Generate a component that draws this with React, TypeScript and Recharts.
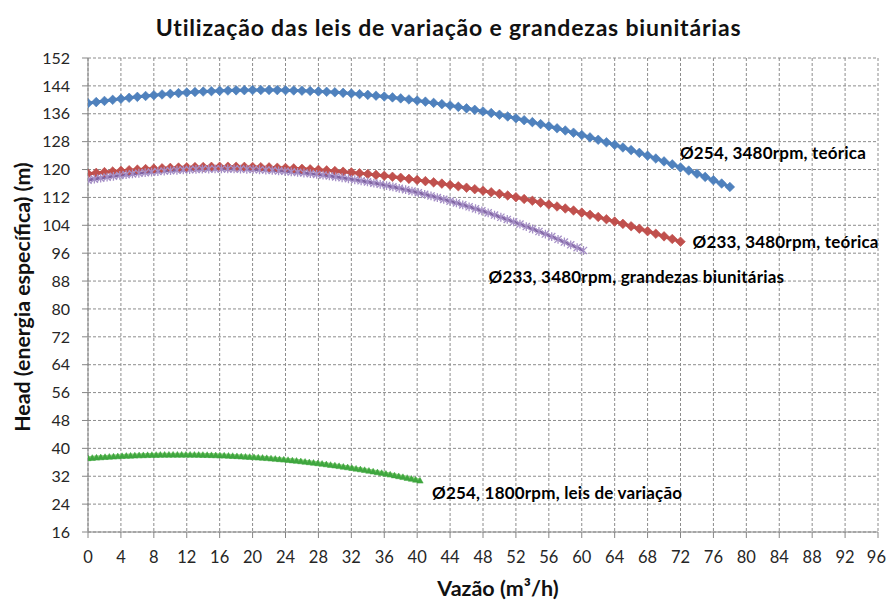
import React from "react";
import { LineChart, Line, XAxis, YAxis, CartesianGrid } from "recharts";

const xTicks = [0, 4, 8, 12, 16, 20, 24, 28, 32, 36, 40, 44, 48, 52, 56, 60, 64, 68, 72, 76, 80, 84, 88, 92, 96];
const yTicks = [16, 24, 32, 40, 48, 56, 64, 72, 80, 88, 96, 104, 112, 120, 128, 136, 144, 152];

const seriesNames = [
  "Ø254, 3480rpm, teórica",
  "Ø233, 3480rpm, teórica",
  "Ø233, 3480rpm, grandezas biunitárias",
  "Ø254, 1800rpm, leis de variação",
];

const blueQ = [0,1,2,3,4,5,6,7,8,9,10,11,12,13,14,15,16,17,18,19,20,21,22,23,24,25,26,27,28,29,30,31,32,33,34,35,36,37,38,39,40,41,42,43,44,45,46,47,48,49,50,51,52,53,54,55,56,57,58,59,60,61,62,63,64,65,66,67,68,69,70,71,72,73,74,75,76,77,78];
const blueH = [139.00,139.35,139.68,140.00,140.30,140.58,140.85,141.10,141.33,141.54,141.74,141.93,142.09,142.24,142.37,142.48,142.58,142.66,142.72,142.77,142.80,142.81,142.81,142.79,142.75,142.69,142.62,142.53,142.42,142.30,142.16,142.00,141.82,141.63,141.42,141.19,140.95,140.69,140.41,140.11,139.80,139.47,139.12,138.76,138.38,137.98,137.56,137.13,136.67,136.21,135.72,135.22,134.70,134.16,133.60,133.03,132.44,131.83,131.20,130.56,129.90,129.22,128.53,127.81,127.08,126.33,125.57,124.78,123.98,123.16,122.33,121.47,120.60,119.71,118.81,117.88,116.94,115.98,115.00];

const redQ = [0,1,2,3,4,5,6,7,8,9,10,11,12,13,14,15,16,17,18,19,20,21,22,23,24,25,26,27,28,29,30,31,32,33,34,35,36,37,38,39,40,41,42,43,44,45,46,47,48,49,50,51,52,53,54,55,56,57,58,59,60,61,62,63,64,65,66,67,68,69,70,71,72];
const redH = [118.80,119.03,119.25,119.45,119.64,119.81,119.97,120.12,120.25,120.36,120.47,120.56,120.63,120.69,120.74,120.77,120.79,120.80,120.79,120.76,120.72,120.67,120.61,120.52,120.43,120.32,120.20,120.06,119.91,119.75,119.57,119.37,119.17,118.95,118.71,118.46,118.20,117.92,117.63,117.32,117.00,116.67,116.32,115.96,115.58,115.19,114.78,114.36,113.93,113.48,113.02,112.55,112.06,111.55,111.04,110.50,109.96,109.40,108.82,108.24,107.63,107.02,106.39,105.74,105.08,104.41,103.72,103.02,102.30,101.58,100.83,100.07,99.30];

const purpleQ = [0,0.77,1.54,2.32,3.09,3.86,4.63,5.40,6.18,6.95,7.72,8.49,9.26,10.03,10.81,11.58,12.35,13.12,13.89,14.67,15.44,16.21,16.98,17.75,18.53,19.30,20.07,20.84,21.61,22.39,23.16,23.93,24.70,25.47,26.24,27.02,27.79,28.56,29.33,30.10,30.88,31.65,32.42,33.19,33.96,34.74,35.51,36.28,37.05,37.82,38.60,39.37,40.14,40.91,41.68,42.45,43.23,44.00,44.77,45.54,46.31,47.09,47.86,48.63,49.40,50.17,50.95,51.72,52.49,53.26,54.03,54.80,55.58,56.35,57.12,57.89,58.66,59.44,60.21];
const purpleH = [116.97,117.26,117.54,117.81,118.06,118.30,118.53,118.74,118.93,119.11,119.27,119.43,119.57,119.70,119.80,119.90,119.98,120.05,120.10,120.14,120.17,120.17,120.17,120.16,120.12,120.07,120.02,119.94,119.85,119.75,119.63,119.49,119.34,119.18,119.01,118.81,118.61,118.39,118.16,117.90,117.64,117.36,117.07,116.77,116.45,116.11,115.76,115.40,115.01,114.62,114.21,113.79,113.35,112.90,112.42,111.95,111.45,110.94,110.41,109.87,109.31,108.74,108.16,107.55,106.94,106.31,105.67,105.00,104.33,103.64,102.94,102.22,101.49,100.74,99.98,99.20,98.41,97.60,96.77];

const greenQ = [0,0.52,1.03,1.55,2.07,2.59,3.10,3.62,4.14,4.65,5.17,5.69,6.21,6.72,7.24,7.76,8.28,8.79,9.31,9.83,10.34,10.86,11.38,11.90,12.41,12.93,13.45,13.96,14.48,15.00,15.52,16.03,16.55,17.07,17.58,18.10,18.62,19.14,19.65,20.17,20.69,21.21,21.72,22.24,22.76,23.27,23.79,24.31,24.83,25.34,25.86,26.38,26.89,27.41,27.93,28.45,28.96,29.48,30.00,30.51,31.03,31.55,32.07,32.58,33.10,33.62,34.14,34.65,35.17,35.69,36.20,36.72,37.24,37.76,38.27,38.79,39.31,39.82,40.34];
const greenH = [37.18,37.28,37.36,37.45,37.53,37.61,37.68,37.74,37.81,37.86,37.92,37.97,38.01,38.05,38.08,38.11,38.14,38.16,38.18,38.19,38.20,38.20,38.20,38.20,38.19,38.17,38.15,38.13,38.10,38.07,38.03,37.99,37.94,37.89,37.83,37.77,37.70,37.63,37.56,37.48,37.40,37.31,37.22,37.12,37.02,36.91,36.80,36.68,36.56,36.44,36.31,36.17,36.03,35.89,35.74,35.59,35.43,35.26,35.10,34.92,34.75,34.57,34.38,34.19,33.99,33.79,33.59,33.38,33.16,32.95,32.72,32.49,32.26,32.02,31.78,31.53,31.28,31.02,30.76];

const zip = (qs: number[], hs: number[]) => qs.map((q, i) => ({ x: q, y: hs[i] }));
const blueData = zip(blueQ, blueH);
const redData = zip(redQ, redH);
const purpleData = zip(purpleQ, purpleH);
const greenData = zip(greenQ, greenH);

const FONT = "Lato, 'Open Sans', sans-serif";

type MarkerKind = "diamond" | "star" | "triangle";

const makeDot = (
  kind: MarkerKind,
  fill: string,
  stroke: string,
  lastIndex: number,
  label: string,
  dx: number,
  dy: number
) => (props: any) => {
  const { cx, cy, index } = props;
  if (cx == null || cy == null) return <g key={`d-${index}`} />;
  let shape: React.ReactNode = null;
  if (kind === "diamond") {
    const s = 4.8;
    shape = (
      <path d={`M${cx},${cy - s}L${cx + s},${cy}L${cx},${cy + s}L${cx - s},${cy}Z`} fill={fill} stroke={stroke} strokeWidth={0.6} />
    );
  } else if (kind === "star") {
    const s = 3.6;
    shape = (
      <path
        d={`M${cx - s},${cy - s}L${cx + s},${cy + s}M${cx - s},${cy + s}L${cx + s},${cy - s}M${cx},${cy - s - 0.8}L${cx},${cy + s + 0.8}`}
        stroke={stroke}
        strokeWidth={1.3}
        fill="none"
      />
    );
  } else {
    const s = 3.2;
    shape = (
      <path d={`M${cx},${cy - s}L${cx + s},${cy + s * 0.8}L${cx - s},${cy + s * 0.8}Z`} fill={fill} stroke={stroke} strokeWidth={0.5} />
    );
  }
  return (
    <g key={`d-${index}`}>
      {shape}
      {index === lastIndex ? (
        <text
          x={cx + dx}
          y={cy + dy}
          dominantBaseline="central"
          fontFamily={FONT}
          fontWeight={700}
          fontSize={17}
          letterSpacing={0.2}
          fill="#000"
        >
          {label}
        </text>
      ) : null}
    </g>
  );
};

const XTick = (props: any) => {
  const { x, y, payload } = props;
  const last = payload.value === xTicks[xTicks.length - 1];
  return (
    <text
      x={last ? x + 8 : x}
      y={y}
      dy="0.71em"
      textAnchor={last ? "end" : "middle"}
      fontFamily={FONT}
      fontSize={16.5}
      fill="#262626"
    >
      {payload.value}
    </text>
  );
};

export default function App() {
  return (
    <div style={{ position: "relative", width: 887, height: 601, background: "#fff", fontFamily: FONT, overflow: "hidden" }}>
      <style>{`html, body { margin: 0; padding: 0; background: #fff; }`}</style>
      <div
        style={{
          position: "absolute",
          left: 0,
          width: 897,
          top: 12,
          textAlign: "center",
          fontSize: 23,
          fontWeight: 700,
          lineHeight: "30px",
          color: "#111",
          letterSpacing: 0.8,
          whiteSpace: "nowrap",
        }}
      >
        Utilização das leis de variação e grandezas biunitárias
      </div>
      <div
        style={{
          position: "absolute",
          left: 398,
          width: 200,
          top: 576,
          textAlign: "center",
          fontSize: 21.5,
          fontWeight: 700,
          lineHeight: "24px",
          color: "#111",
          whiteSpace: "nowrap",
        }}
      >
        Vazão (m³/h)
      </div>
      <div
        style={{
          position: "absolute",
          left: 22 - 170,
          width: 340,
          top: 297 - 13,
          textAlign: "center",
          fontSize: 21.3,
          fontWeight: 700,
          lineHeight: "26px",
          color: "#111",
          transform: "rotate(-90deg)",
          whiteSpace: "nowrap",
        }}
      >
        Head (energia específica) (m)
      </div>
      <div style={{ position: "absolute", left: 0, top: 0 }}>
        <LineChart width={887} height={601} margin={{ top: 58, right: 9, bottom: 0, left: 0 }}>
          <CartesianGrid stroke="#8c8c8c" strokeDasharray="3 2" strokeWidth={1} />
          <XAxis
            type="number"
            dataKey="x"
            domain={[0, 96]}
            ticks={xTicks}
            interval={0}
            allowDataOverflow
            height={69}
            stroke="#868686"
            tickSize={6}
            tickMargin={13}
            tick={<XTick />}
          />
          <YAxis
            type="number"
            domain={[16, 152]}
            ticks={yTicks}
            interval={0}
            allowDataOverflow
            width={88}
            stroke="#868686"
            tickSize={6}
            tickMargin={12}
            tick={{ fill: "#262626", fontSize: 16, fontFamily: FONT }}
          />
          <Line
            data={blueData}
            dataKey="y"
            stroke="#4F81BD"
            strokeWidth={3}
            isAnimationActive={false}
            dot={makeDot("diamond", "#4F81BD", "#4A7EBB", blueData.length - 1, seriesNames[0], -50, -34)}
            activeDot={false}
          />
          <Line
            data={redData}
            dataKey="y"
            stroke="#C0504D"
            strokeWidth={3}
            isAnimationActive={false}
            dot={makeDot("diamond", "#C0504D", "#BE4B48", redData.length - 1, seriesNames[1], 12, 0)}
            activeDot={false}
          />
          <Line
            data={purpleData}
            dataKey="y"
            stroke="#8064A2"
            strokeWidth={3}
            isAnimationActive={false}
            dot={makeDot("star", "none", "#A58FC6", purpleData.length - 1, seriesNames[2], -95, 26)}
            activeDot={false}
          />
          <Line
            data={greenData}
            dataKey="y"
            stroke="#8ED17F"
            strokeWidth={4}
            isAnimationActive={false}
            dot={makeDot("triangle", "#3FA63F", "#3FA63F", greenData.length - 1, seriesNames[3], 12, 12)}
            activeDot={false}
          />
        </LineChart>
      </div>
    </div>
  );
}
